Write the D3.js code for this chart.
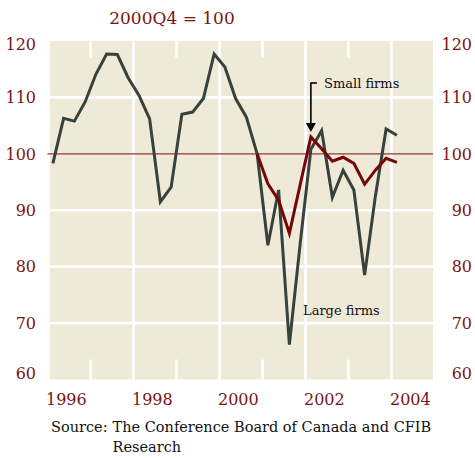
<!DOCTYPE html>
<html>
<head>
<meta charset="utf-8">
<script src="https://cdn.jsdelivr.net/npm/d3@7"></script>
<style>
  html, body { margin: 0; padding: 0; background: #fff; }
  svg { display: block; }
  .tick-label { font-family: "DejaVu Serif", serif; font-size: 16px; fill: #7a1414; }
  .note { font-family: "DejaVu Serif", serif; font-size: 13px; fill: #111; }
</style>
</head>
<body>
<div id="chart"></div>
<script>
// quarterly index, 2000Q4 = 100
const quarters = [
    '1996Q1', '1996Q2', '1996Q3', '1996Q4',
    '1997Q1', '1997Q2', '1997Q3', '1997Q4',
    '1998Q1', '1998Q2', '1998Q3', '1998Q4',
    '1999Q1', '1999Q2', '1999Q3', '1999Q4',
    '2000Q1', '2000Q2', '2000Q3', '2000Q4',
    '2001Q1', '2001Q2', '2001Q3', '2001Q4',
    '2002Q1', '2002Q2', '2002Q3', '2002Q4',
    '2003Q1', '2003Q2', '2003Q3', '2003Q4',
    '2004Q1'
];
const largeFirms = [
    98.3, 106.3, 105.8, 109.2,
    114.1, 117.7, 117.6, 113.5,
    110.4, 106.2, 91.5, 94.1,
    107.0, 107.4, 109.8, 117.7,
    115.4, 109.8, 106.5, 100.0,
    83.8, 93.6, 66.2, 84.0,
    100.8, 104.1, 92.3, 97.1,
    93.6, 78.5, 92.5, 104.4,
    103.3
];
const smallFirms = [
    null, null, null, null,
    null, null, null, null,
    null, null, null, null,
    null, null, null, null,
    null, null, null, 100.0,
    94.7, 91.8, 85.9, 94.5,
    103.0, 100.9, 98.7, 99.4,
    98.3, 94.6, 97.1, 99.2,
    98.5
];
const yTicks = [60, 70, 80, 90, 100, 110, 120];
const yGrid = [70, 80, 90, 110];
const yearLabels = [1996, 1998, 2000, 2002, 2004];
const majorYears = [1998, 2000, 2002, 2004];
const minorYears = [1997, 1999, 2001, 2003];

const width = 475;
const height = 458;
const plot = { left: 50, right: 433, top: 41, bottom: 379.5 };

const svg = d3.select('#chart')
    .append('svg')
    .attr('width', width)
    .attr('height', height);

const x = d3.scaleLinear()
    .domain([1996, 2004])
    .range([47.5, 391.5]);

const y = d3.scaleLinear()
    .domain([60, 120])
    .range([plot.bottom, plot.top]);

// quarter label -> mid-quarter position in years
const qTime = q => +q.slice(0, 4) + (+q.slice(5) - 0.5) / 4;

// background panel
svg.append('rect')
    .attr('x', plot.left)
    .attr('y', plot.top)
    .attr('width', plot.right - plot.left)
    .attr('height', plot.bottom - plot.top)
    .attr('fill', '#efe9d7');

// white grid
svg.append('g')
    .selectAll('line')
    .data(yGrid)
    .join('line')
    .attr('x1', plot.left)
    .attr('x2', plot.right)
    .attr('y1', d => y(d))
    .attr('y2', d => y(d))
    .attr('stroke', '#fff')
    .attr('stroke-width', 2.6);

svg.append('g')
    .selectAll('line')
    .data(majorYears)
    .join('line')
    .attr('x1', d => x(d))
    .attr('x2', d => x(d))
    .attr('y1', plot.top)
    .attr('y2', plot.bottom)
    .attr('stroke', '#fff')
    .attr('stroke-width', 2.6);

// short ticks at odd years, top and bottom
const minor = svg.append('g');
minor.selectAll('.top')
    .data(minorYears)
    .join('line')
    .attr('class', 'top')
    .attr('x1', d => x(d))
    .attr('x2', d => x(d))
    .attr('y1', plot.top)
    .attr('y2', plot.top + 17)
    .attr('stroke', '#fff')
    .attr('stroke-width', 2.6);
minor.selectAll('.bottom')
    .data(minorYears)
    .join('line')
    .attr('class', 'bottom')
    .attr('x1', d => x(d))
    .attr('x2', d => x(d))
    .attr('y1', plot.bottom - 20)
    .attr('y2', plot.bottom)
    .attr('stroke', '#fff')
    .attr('stroke-width', 2.6);

// reference line at 100
svg.append('line')
    .attr('x1', x(1996))
    .attr('x2', plot.right)
    .attr('y1', y(100))
    .attr('y2', y(100))
    .attr('stroke', '#8e3b36')
    .attr('stroke-width', 1.4);

// series
const line = d3.line()
    .defined(d => d.v != null)
    .x(d => x(qTime(d.q)))
    .y(d => y(d.v));

svg.append('path')
    .datum(quarters.map((q, i) => ({ q: q, v: largeFirms[i] })))
    .attr('d', line)
    .attr('fill', 'none')
    .attr('stroke', '#37423e')
    .attr('stroke-width', 3)
    .attr('stroke-linejoin', 'miter');

svg.append('path')
    .datum(quarters.map((q, i) => ({ q: q, v: smallFirms[i] })))
    .attr('d', line)
    .attr('fill', 'none')
    .attr('stroke', '#760606')
    .attr('stroke-width', 3)
    .attr('stroke-linejoin', 'miter');

// y axes on both sides
const clampY = v => Math.min(Math.max(y(v), plot.top + 3), plot.bottom - 6);

const leftAxis = svg.append('g')
    .attr('transform', 'translate(36,0)')
    .call(d3.axisLeft(y).tickValues(yTicks).tickSize(0).tickPadding(0));
const rightAxis = svg.append('g')
    .attr('transform', 'translate(472,0)')
    .call(d3.axisRight(y).tickValues(yTicks).tickSize(0).tickPadding(0));

[leftAxis, rightAxis].forEach(ax => {
    ax.select('.domain').remove();
    ax.attr('font-family', null).attr('font-size', null);
    ax.selectAll('.tick')
        .attr('transform', d => `translate(0,${clampY(d)})`);
    ax.selectAll('.tick text')
        .attr('class', 'tick-label')
        .attr('x', 0)
        .attr('dy', '0.36em')
        .attr('text-anchor', 'end')
        .attr('fill', null);
});

// x axis labels
const bottomAxis = svg.append('g')
    .attr('transform', 'translate(0,405)')
    .call(d3.axisBottom(x).tickValues(yearLabels).tickFormat(d3.format('d')).tickSize(0));
bottomAxis.select('.domain').remove();
bottomAxis.attr('font-family', null).attr('font-size', null);
bottomAxis.selectAll('.tick text')
    .attr('class', 'tick-label')
    .attr('x', -2)
    .attr('y', 0)
    .attr('dy', 0)
    .attr('text-anchor', 'start')
    .attr('fill', null);

// title
svg.append('text')
    .attr('x', 172)
    .attr('y', 24)
    .attr('text-anchor', 'middle')
    .style('font-family', '"DejaVu Serif", serif')
    .style('font-size', '17px')
    .style('fill', '#7a1414')
    .text('2000Q4 = 100');

// annotations
const peak = qTime('2002Q1');
svg.append('line')
    .attr('x1', x(peak) - 0.5)
    .attr('x2', x(peak) + 6)
    .attr('y1', 83)
    .attr('y2', 83)
    .attr('stroke', '#000')
    .attr('stroke-width', 1.6);
svg.append('line')
    .attr('x1', x(peak))
    .attr('x2', x(peak))
    .attr('y1', 83)
    .attr('y2', 124)
    .attr('stroke', '#000')
    .attr('stroke-width', 1.6);
svg.append('path')
    .attr('d', `M${x(peak) - 5},123 L${x(peak) + 5},123 L${x(peak)},132 Z`)
    .attr('fill', '#000');

svg.append('text')
    .attr('class', 'note')
    .attr('x', 324)
    .attr('y', 88)
    .text('Small firms');

svg.append('text')
    .attr('class', 'note')
    .attr('x', 303)
    .attr('y', 315)
    .text('Large firms');

// source, with hanging indent
const src = svg.append('g')
    .style('font-family', '"DejaVu Serif", serif')
    .style('font-size', '14.5px')
    .style('fill', '#111');
const lead = src.append('text')
    .attr('x', 51)
    .attr('y', 432)
    .text('Source:');
const indent = 51 + lead.node().getComputedTextLength() + 5;
src.append('text')
    .attr('x', indent)
    .attr('y', 432)
    .text('The Conference Board of Canada and CFIB');
src.append('text')
    .attr('x', indent)
    .attr('y', 452)
    .text('Research');
</script>
</body>
</html>
